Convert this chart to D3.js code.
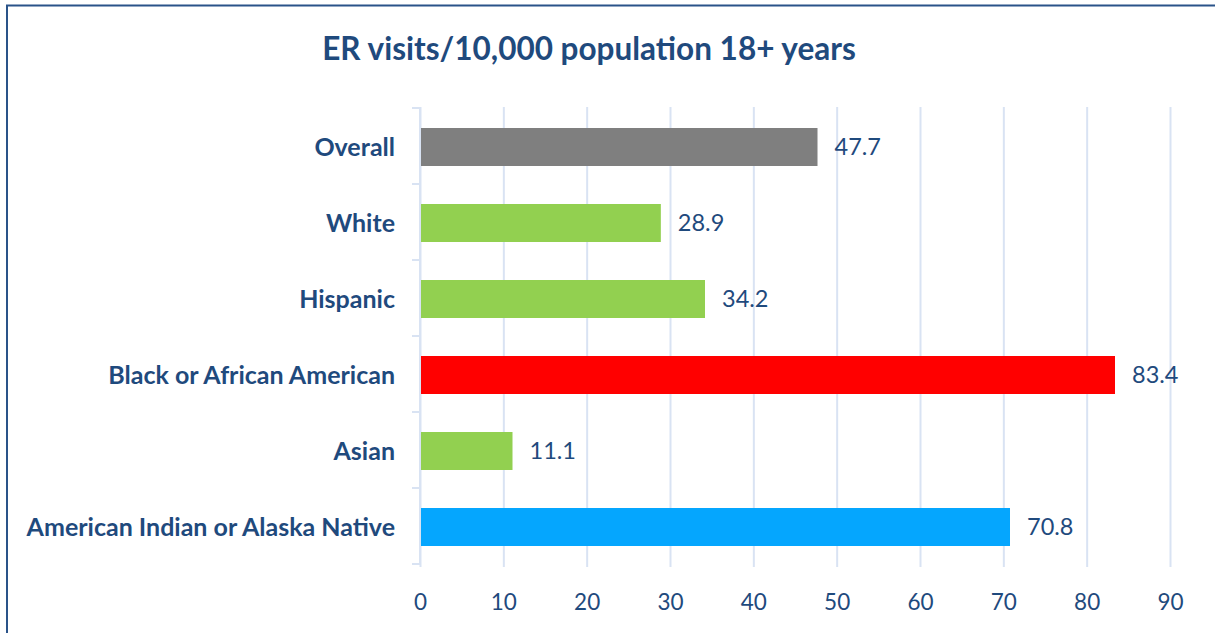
<!DOCTYPE html>
<html>
<head>
<meta charset="utf-8">
<script src="https://cdn.jsdelivr.net/npm/d3@7"></script>
<style>
  html, body { margin: 0; padding: 0; background: #ffffff; }
  svg { display: block; }
</style>
</head>
<body>
<svg id="chart" width="1215" height="633"></svg>
<script>
const categories = ["Overall", "White", "Hispanic", "Black or African American", "Asian", "American Indian or Alaska Native"];
const values = [47.7, 28.9, 34.2, 83.4, 11.1, 70.8];
const barColors = ["#7f7f7f", "#92d050", "#92d050", "#ff0000", "#92d050", "#05a6fe"];
const xTicks = [0, 10, 20, 30, 40, 50, 60, 70, 80, 90];
const titleText = "ER visits/10,000 population 18+ years";

const W = 1215, H = 633;
const margin = { left: 420, right: 45, top: 108, bottom: 66 };
const textColor = "#1f4a7d";
const gridColor = "#d9e3f3";
const fontFamily = "Lato, 'Open Sans', sans-serif";

const svg = d3.select("#chart");

// frame
svg.append("rect")
  .attr("x", 7).attr("y", 5.5)
  .attr("width", W + 20).attr("height", H + 20)
  .attr("fill", "none")
  .attr("stroke", "#2a5389")
  .attr("stroke-width", 2);

const x = d3.scaleLinear().domain([0, 90]).range([margin.left, W - margin.right]);
const y = d3.scaleBand().domain(categories).range([margin.top, margin.top + 76 * categories.length]).paddingInner(0.5).paddingOuter(0.25);

const plotTop = margin.top - 1;
const plotBottom = margin.top + 76 * categories.length + 3;

// title
svg.append("text")
  .attr("x", 589).attr("y", 52)
  .attr("text-anchor", "middle")
  .attr("dominant-baseline", "middle")
  .attr("font-family", fontFamily)
  .attr("font-weight", "bold")
  .attr("font-size", 31.5)
  .attr("fill", textColor)
  .text(titleText);

// gridlines via axis
const gx = svg.append("g")
  .attr("transform", `translate(0,${plotBottom})`)
  .call(d3.axisBottom(x).tickValues(xTicks).tickSize(-(plotBottom - plotTop)).tickFormat(d3.format("d")).tickPadding(22));
gx.select(".domain").remove();
gx.selectAll(".tick line").attr("stroke", gridColor).attr("stroke-width", 2);
gx.selectAll(".tick text")
  .attr("font-family", fontFamily)
  .attr("font-size", 22.5)
  .attr("fill", textColor)
  .attr("dy", "0.35em")
  .attr("y", 35);

// y axis tick marks at band boundaries
const bandStep = y.step();
const boundaries = d3.range(categories.length + 1).map(i => margin.top + i * bandStep);
svg.append("g").selectAll("line").data(boundaries).join("line")
  .attr("x1", margin.left - 8).attr("x2", margin.left)
  .attr("y1", d => d).attr("y2", d => d)
  .attr("stroke", gridColor).attr("stroke-width", 2);
svg.append("line")
  .attr("x1", margin.left).attr("x2", margin.left)
  .attr("y1", boundaries[0]).attr("y2", boundaries[boundaries.length - 1])
  .attr("stroke", gridColor).attr("stroke-width", 2);

// bars
svg.append("g").selectAll("rect").data(categories).join("rect")
  .attr("x", x(0) + 1)
  .attr("y", d => y(d) + 1)
  .attr("width", (d, i) => x(values[i]) - x(0) - 1)
  .attr("height", y.bandwidth())
  .attr("fill", (d, i) => barColors[i]);

// value labels
svg.append("g").selectAll("text").data(categories).join("text")
  .attr("x", (d, i) => x(values[i]) + 17)
  .attr("y", d => y(d) + y.bandwidth() / 2 + 1)
  .attr("dy", "0.35em")
  .attr("font-family", fontFamily)
  .attr("font-size", 23.5)
  .attr("fill", textColor)
  .text((d, i) => d3.format(".1f")(values[i]));

// category labels
svg.append("g").selectAll("text").data(categories).join("text")
  .attr("x", 395)
  .attr("y", d => y(d) + y.bandwidth() / 2 + 1)
  .attr("dy", "0.35em")
  .attr("text-anchor", "end")
  .attr("font-family", fontFamily)
  .attr("font-weight", "bold")
  .attr("font-size", 25)
  .attr("fill", textColor)
  .text(d => d);
</script>
</body>
</html>
